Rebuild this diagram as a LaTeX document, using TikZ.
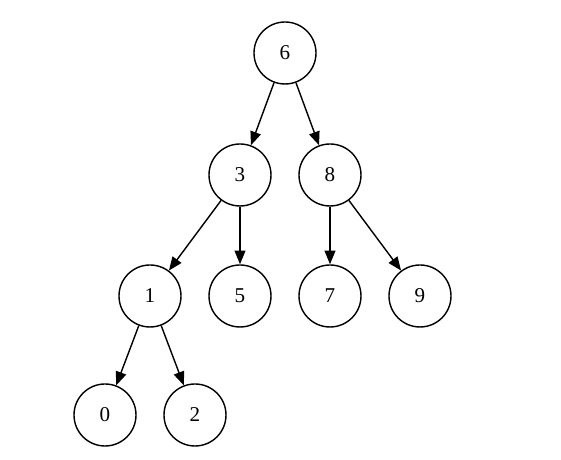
\documentclass[tikz,border=0pt]{standalone}
\usepackage{fontspec}
\setmainfont{Liberation Serif}
\usepackage{tikz}
\usetikzlibrary{positioning, arrows.meta}

\tikzset{
  treenode/.style={draw, circle, line width=1pt, minimum size=1.55cm, inner sep=0pt, font=\fontsize{15}{18}\selectfont},
  treeedge/.style={-{Triangle[length=3.4mm, width=2.7mm]}, line width=1pt}
}

\begin{document}
\begin{tikzpicture}

\useasboundingbox (0,0) rectangle (14.025,11.5);

% Nodes
\node[treenode] (n6) at (7.125,10.175) {6};
\node[treenode] (n3) at (6.0,7.125) {3};
\node[treenode] (n8) at (8.25,7.125) {8};
\node[treenode] (n1) at (3.75,4.1) {1};
\node[treenode] (n5) at (6.0,4.1) {5};
\node[treenode] (n7) at (8.25,4.1) {7};
\node[treenode] (n9) at (10.5,4.1) {9};
\node[treenode] (n0) at (2.625,1.125) {0};
\node[treenode] (n2) at (4.875,1.125) {2};

% Arrows
\draw[treeedge] (n6) -- (n3);
\draw[treeedge] (n6) -- (n8);
\draw[treeedge] (n3) -- (n1);
\draw[treeedge] (n3) -- (n5);
\draw[treeedge] (n8) -- (n7);
\draw[treeedge] (n8) -- (n9);
\draw[treeedge] (n1) -- (n0);
\draw[treeedge] (n1) -- (n2);

\end{tikzpicture}
\end{document}
